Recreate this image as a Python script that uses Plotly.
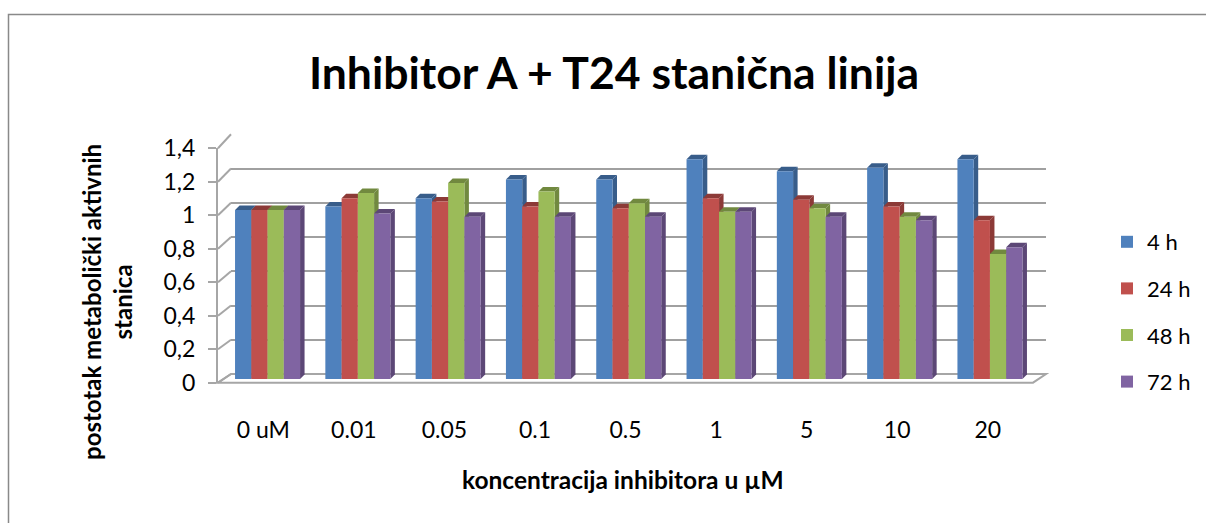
import plotly.graph_objects as go

# ---------------- data ----------------
categories = ["0 uM", "0.01", "0.05", "0.1", "0.5", "1", "5", "10", "20"]
series_names = ["4 h", "24 h", "48 h", "72 h"]
h4 = [1.00, 1.02, 1.07, 1.18, 1.18, 1.30, 1.23, 1.25, 1.30]
h24 = [1.00, 1.07, 1.05, 1.02, 1.01, 1.07, 1.06, 1.02, 0.94]
h48 = [1.00, 1.10, 1.16, 1.11, 1.04, 0.99, 1.01, 0.96, 0.74]
h72 = [1.00, 0.98, 0.96, 0.96, 0.96, 0.99, 0.96, 0.94, 0.78]
y_ticks = [0, 0.2, 0.4, 0.6, 0.8, 1.0, 1.2, 1.4]
y_ticktext = ["0", "0,2", "0,4", "0,6", "0,8", "1", "1,2", "1,4"]

title_text = "Inhibitor A + T24 stanična linija"
x_title = "koncentracija inhibitora u µM"
y_title = "postotak metabolički aktivnih<br>stanica"

colors = ["#4F81BD", "#C0504D", "#9BBB59", "#8064A2"]
dark_colors = ["#385D8A", "#8C3A37", "#71893F", "#5C4776"]

# ---------------- geometry helpers (pixel -> paper) ----------------
W, H = 1206, 523
FONT = "Lato"


def fx(p):
    return p / W


def fy(p):
    return 1 - p / H


# back wall (gridlines)
BX0, BX1, BY0, BY1 = 231, 1046, 374.0, 134.3
# front axis (ticks & labels)
FX0, FX1, FY0, FY1 = 218, 1033, 382.7, 148.3
# bars
CX0, CX1, CY0, CY1 = 222.4, 1035.1, 379.0, 142.4
YMAX = 1.4
BARGAP = 0.28

series = [h4, h24, h48, h72]
fig = go.Figure()

# empty traces so the back-wall and front-axis subplots exist
fig.add_trace(go.Scatter(x=[None], y=[None], xaxis="x", yaxis="y", showlegend=False, hoverinfo="skip"))
fig.add_trace(go.Scatter(x=[None], y=[None], xaxis="x3", yaxis="y3", showlegend=False, hoverinfo="skip"))

xs = list(range(len(categories)))
for i, (name, vals) in enumerate(zip(series_names, series)):
    fig.add_trace(go.Bar(
        x=xs, y=vals, name=name, xaxis="x2", yaxis="y2",
        marker=dict(color=colors[i], line=dict(width=0)),
        legendgroup=name,
    ))

# 3D side/top faces of bars (in bar data coordinates)
n = len(series)
w = (1 - BARGAP) / n
dx = 4.5 / ((CX1 - CX0) / len(categories))
dy = 4.5 / ((CY0 - CY1) / YMAX)
shapes = []
for i, vals in enumerate(series):
    for k, v in enumerate(vals):
        left = k - (1 - BARGAP) / 2 + i * w
        right = left + w
        shapes.append(dict(
            type="path", xref="x2", yref="y2", layer="below",
            path=f"M{right},0 L{right},{v} L{right+dx},{v+dy} L{right+dx},{dy} Z",
            fillcolor=dark_colors[i], line=dict(width=0)))
        shapes.append(dict(
            type="path", xref="x2", yref="y2", layer="below",
            path=f"M{left},{v} L{right},{v} L{right+dx},{v+dy} L{left+dx},{v+dy} Z",
            fillcolor=dark_colors[i], line=dict(width=0)))

# floor
shapes.append(dict(
    type="path", xref="paper", yref="paper", layer="below",
    path=(f"M{fx(FX0)},{fy(FY0)} L{fx(FX1)},{fy(FY0)} "
          f"L{fx(BX1)},{fy(BY0)} L{fx(BX0)},{fy(BY0)} Z"),
    fillcolor="rgba(0,0,0,0)", line=dict(color="#A6A6A6", width=2)))

# slanted connectors from front ticks to back gridlines
for v in y_ticks:
    yf = FY0 - v * (FY0 - FY1) / YMAX
    yb = BY0 - v * (BY0 - BY1) / YMAX
    shapes.append(dict(
        type="line", xref="paper", yref="paper", layer="below",
        x0=fx(FX0), y0=fy(yf), x1=fx(BX0), y1=fy(yb),
        line=dict(color="#A6A6A6", width=2)))

# outer chart border
shapes.append(dict(
    type="rect", xref="paper", yref="paper", layer="above",
    x0=fx(8.5), y0=fy(14.5), x1=fx(1260), y1=fy(560),
    line=dict(color="#898989", width=1.5), fillcolor="rgba(0,0,0,0)"))

annotations = [
    dict(text=f"<b>{x_title}</b>", x=fx(623), y=fy(479), xref="paper", yref="paper",
         showarrow=False, xanchor="center", yanchor="middle",
         font=dict(family=FONT, size=24.5, color="#000000")),
    dict(text=f"<b>{y_title}</b>", x=fx(107), y=fy(302), xref="paper", yref="paper",
         showarrow=False, xanchor="center", yanchor="middle", textangle=-90,
         font=dict(family=FONT, size=24, color="#000000")),
]

fig.update_layout(
    template="none",
    width=W, height=H, autosize=False,
    margin=dict(l=0, r=0, t=0, b=0, pad=0, autoexpand=False),
    paper_bgcolor="#FFFFFF", plot_bgcolor="rgba(0,0,0,0)",
    barmode="group", bargap=BARGAP, bargroupgap=0,
    title=dict(text=f"<b>{title_text}</b>", x=fx(614), y=fy(73), xanchor="center", yanchor="middle",
               xref="paper", yref="paper",
               font=dict(family=FONT, size=44.5, color="#000000")),
    font=dict(family=FONT, size=22, color="#000000"),
    showlegend=True,
    legend=dict(x=fx(1107), y=fy(221), xanchor="left", yanchor="top",
                traceorder="grouped", tracegroupgap=15,
                font=dict(family=FONT, size=22, color="#000000"),
                bgcolor="rgba(0,0,0,0)", borderwidth=0, itemwidth=30),
    # back wall
    xaxis=dict(domain=[fx(BX0), fx(BX1)], range=[0, 1], showgrid=False, zeroline=False,
               showticklabels=False, showline=False, fixedrange=True, automargin=False),
    yaxis=dict(domain=[fy(BY0), fy(BY1)], range=[0, YMAX], tickvals=y_ticks,
               showgrid=True, gridcolor="#A0A0A0", gridwidth=2, zeroline=False,
               showticklabels=False, showline=False, ticks="", anchor="x", fixedrange=True,
               automargin=False),
    # bars
    xaxis2=dict(domain=[fx(CX0), fx(CX1)], range=[-0.5, len(categories) - 0.5],
                showgrid=False, zeroline=False, showticklabels=False, showline=False, ticks="",
                anchor="y2", fixedrange=True, automargin=False),
    yaxis2=dict(domain=[fy(CY0), fy(CY1)], range=[0, YMAX], showgrid=False, zeroline=False,
                showticklabels=False, showline=False, ticks="", anchor="x2", fixedrange=True,
                automargin=False),
    # front axis
    xaxis3=dict(domain=[fx(FX0), fx(FX1)], range=[-0.5, len(categories) - 0.5],
                tickvals=xs, ticktext=categories, ticks="", showgrid=False, zeroline=False,
                showline=False, anchor="y3", ticklabelstandoff=31,
                tickfont=dict(family=FONT, size=23, color="#000000"), fixedrange=True,
                automargin=False),
    yaxis3=dict(domain=[fy(FY0), fy(FY1)], range=[0, YMAX], tickvals=y_ticks, ticktext=y_ticktext,
                ticks="outside", ticklen=8, tickcolor="#A6A6A6", tickwidth=2,
                showline=True, linecolor="#A6A6A6", linewidth=2, showgrid=False, zeroline=False,
                anchor="x3", ticklabelstandoff=8,
                tickfont=dict(family=FONT, size=23, color="#000000"), fixedrange=True,
                automargin=False),
    shapes=shapes,
    annotations=annotations,
)

fig.write_html("out.html", post_script="document.body.style.margin='0';",
               config={"displayModeBar": False})
